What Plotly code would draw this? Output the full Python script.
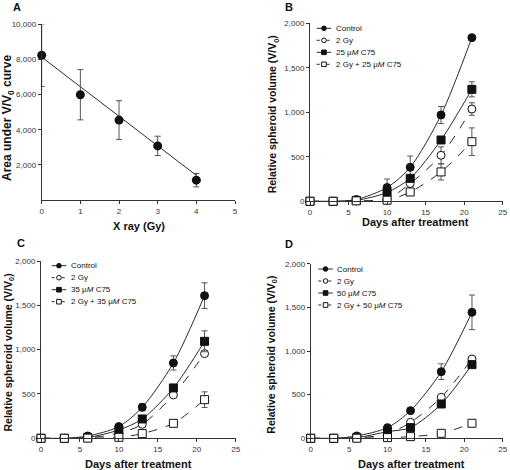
import plotly.graph_objects as go

# ---------------- Data ----------------
# Panel A
dose_gy = [0, 1, 2, 3, 4]
auc_mean = [8240, 5990, 4550, 3080, 1130]
auc_err = [1780, 1430, 1100, 550, 380]
fit_x = [0, 4]
fit_y = [8130, 1400]

days = [0, 3, 6, 10, 13, 17, 21]

# Panel B (25 uM C75)
b_control = [0, 0, 20, 155, 382, 970, 1839]
b_control_err = [0, 0, 10, 95, 127, 95, 20]
b_2gy = [0, 0, 5, 28, 200, 517, 1037]
b_2gy_err = [0, 0, 3, 10, 20, 95, 70]
b_c75 = [0, 0, 10, 100, 258, 689, 1258]
b_c75_err = [0, 0, 5, 20, 25, 20, 85]
b_combo = [0, 0, 5, 12, 105, 330, 670]
b_combo_err = [0, 0, 2, 5, 20, 90, 155]

# Panel C (35 uM C75)
c_control = [0, 0, 26, 132, 350, 850, 1609]
c_control_err = [0, 0, 8, 15, 40, 80, 145]
c_2gy = [0, 0, 5, 58, 158, 489, 955]
c_2gy_err = [0, 0, 2, 8, 15, 20, 25]
c_c75 = [0, 0, 10, 94, 218, 568, 1094]
c_c75_err = [0, 0, 4, 10, 15, 25, 118]
c_combo = [0, 0, 2, 11, 53, 169, 436]
c_combo_err = [0, 0, 1, 4, 10, 15, 88]

# Panel D (50 uM C75)
d_control = [0, 0, 27, 122, 317, 763, 1443]
d_control_err = [0, 0, 8, 15, 20, 90, 198]
d_2gy = [0, 0, 5, 50, 183, 470, 908]
d_2gy_err = [0, 0, 2, 6, 12, 15, 20]
d_c75 = [0, 0, 8, 76, 122, 393, 844]
d_c75_err = [0, 0, 3, 8, 10, 15, 20]
d_combo = [0, 0, 1, 8, 19, 57, 172]
d_combo_err = [0, 0, 1, 2, 4, 6, 10]

series_names = ["Control", "2 Gy", "{} μ<i>M</i> C75", "2 Gy + {} μ<i>M</i> C75"]
panel_doses = ["25", "35", "50"]
panel_letters = ["A", "B", "C", "D"]

x_ticks_a = [0, 1, 2, 3, 4, 5]
y_ticks_a = [2000, 4000, 6000, 8000, 10000]
y_ticklabels_a = ["2,000", "4,000", "6,000", "8,000", "10,000"]
day_ticks = [0, 5, 10, 15, 20, 25]
y_ticks_b = [0, 500, 1000, 1500, 2000]
y_ticklabels_b = ["0", "500", "1,000", "1,500", "2,000"]

# ---------------- Figure ----------------
FONT = "Arial, Liberation Sans, sans-serif"
LINE = "#2b2b2b"
ERR = "#555555"
INK = "#111111"
W, H = 510, 470

fig = go.Figure()

# Panel A
fig.add_trace(go.Scatter(
    x=fit_x, y=fit_y, mode="lines", line=dict(color=LINE, width=1),
    xaxis="x", yaxis="y", showlegend=False, hoverinfo="skip"))
fig.add_trace(go.Scatter(
    x=dose_gy, y=auc_mean, mode="markers",
    marker=dict(symbol="circle", size=9, color=INK),
    error_y=dict(type="data", array=auc_err, color=ERR, thickness=1, width=3),
    xaxis="x", yaxis="y", showlegend=False, cliponaxis=False))

panels = [
    ("x2", "y2", [b_control, b_2gy, b_c75, b_combo],
     [b_control_err, b_2gy_err, b_c75_err, b_combo_err], panel_doses[0]),
    ("x3", "y3", [c_control, c_2gy, c_c75, c_combo],
     [c_control_err, c_2gy_err, c_c75_err, c_combo_err], panel_doses[1]),
    ("x4", "y4", [d_control, d_2gy, d_c75, d_combo],
     [d_control_err, d_2gy_err, d_c75_err, d_combo_err], panel_doses[2]),
]
styles = [
    dict(symbol="circle", fill=INK, dash="solid"),
    dict(symbol="circle", fill="white", dash="dash"),
    dict(symbol="square", fill=INK, dash="solid"),
    dict(symbol="square", fill="white", dash="dash"),
]

for xa, ya, vals, errs, dose in panels:
    for i, (v, e) in enumerate(zip(vals, errs)):
        st = styles[i]
        fig.add_trace(go.Scatter(
            x=days, y=v, mode="lines+markers", name=series_names[i].format(dose),
            line=dict(color=LINE, width=1, dash=st["dash"], shape="spline", smoothing=0.8),
            marker=dict(symbol=st["symbol"], size=8, color=st["fill"],
                        line=dict(color=INK, width=1)),
            error_y=dict(type="data", array=e, color=ERR, thickness=1, width=3),
            xaxis=xa, yaxis=ya, showlegend=False, cliponaxis=False))

# plot areas in pixels: (left, right, top, bottom)
areas = [(41.7, 235.0, 24.3, 200.0),
         (310.0, 502.7, 23.3, 201.3),
         (41.0, 235.7, 261.0, 438.3),
         (310.7, 502.7, 263.7, 438.3)]


def px2x(p):
    return p / W


def px2y(p):
    return 1 - p / H


axis_common = dict(
    showline=True, linecolor="#333333", linewidth=1, showgrid=False, zeroline=False,
    ticks="outside", ticklen=3, tickcolor="#333333", tickwidth=1,
    tickfont=dict(family=FONT, size=8, color="#333333"), mirror=False,
)

layout = dict(
    width=W, height=H, margin=dict(l=0, r=0, t=0, b=0, autoexpand=False),
    paper_bgcolor="white", plot_bgcolor="white", showlegend=False,
    font=dict(family=FONT, color=INK),
)
names = ["", "2", "3", "4"]
for k, (l, r, t, b) in enumerate(areas):
    n = names[k]
    xdict = dict(axis_common, domain=[px2x(l), px2x(r)], anchor="y" + n)
    ydict = dict(axis_common, domain=[px2y(b), px2y(t)], anchor="x" + n)
    if k == 0:
        xdict.update(range=[0, 5], tickvals=x_ticks_a)
        ydict.update(range=[0, 10000], tickvals=y_ticks_a, ticktext=y_ticklabels_a)
    else:
        xdict.update(range=[0, 25], tickvals=day_ticks)
        ydict.update(range=[0, 2000], tickvals=y_ticks_b, ticktext=y_ticklabels_b)
    layout["xaxis" + n] = xdict
    layout["yaxis" + n] = ydict

annotations = []
shapes = []


def add_text(text, x, y, size, angle=0, anchor="center"):
    annotations.append(dict(text=text, x=px2x(x), y=px2y(y), xref="paper", yref="paper",
                            xanchor=anchor, yanchor="middle", showarrow=False, textangle=angle,
                            font=dict(family=FONT, size=size, color=INK)))


# Panel letters
letter_pos = [(16.7, 6.7), (288.7, 6.7), (21, 243), (289, 244)]
for letter, (px, py) in zip(panel_letters, letter_pos):
    add_text(f"<b>{letter}</b>", px, py, 11)

# Axis titles
add_text("<b>X ray (Gy)</b>", 138.5, 225.5, 11)
add_text("<b>Area under V/V<sub>0</sub> curve</b>", 7.5, 118.5, 12, angle=-90)
for (xt, yt), (xy, yy) in [((415, 221.5), (273.3, 114)),
                           ((138, 464), (8.5, 353)),
                           ((411.7, 464), (271.7, 355))]:
    add_text("<b>Days after treatment</b>", xt, yt, 11)
    add_text("<b>Relative spheroid volume (V/V<sub>0</sub>)</b>", xy, yy, 10.5, angle=-90)

# Legends (drawn as keys + labels inside each panel)
legend_offsets = [(6.7, 5.0), (10.7, 4.7), (7.6, 5.3)]
ROW = 12.0
KEY = 14.5
for (l, r, t, b), (ox, oy), dose in zip(areas[1:], legend_offsets, panel_doses):
    for i, st in enumerate(styles):
        x0 = l + ox
        yc = t + oy + i * ROW
        shapes.append(dict(type="line", xref="paper", yref="paper",
                           x0=px2x(x0), x1=px2x(x0 + KEY), y0=px2y(yc), y1=px2y(yc),
                           line=dict(color=LINE, width=1,
                                     dash="solid" if st["dash"] == "solid" else "3px,2px")))
        shapes.append(dict(type="circle" if st["symbol"] == "circle" else "rect",
                           xref="paper", yref="paper", xsizemode="pixel", ysizemode="pixel",
                           xanchor=px2x(x0 + KEY / 2), yanchor=px2y(yc),
                           x0=-2.3, x1=2.3, y0=-2.3, y1=2.3,
                           fillcolor=st["fill"], line=dict(color=INK, width=1)))
        add_text(series_names[i].format(dose), x0 + KEY + 2.5, yc, 8, anchor="left")

layout["annotations"] = annotations
layout["shapes"] = shapes
fig.update_layout(**layout)
fig.write_html("out.html", config={"displayModeBar": False},
               post_script="document.body.style.margin='0px';")
